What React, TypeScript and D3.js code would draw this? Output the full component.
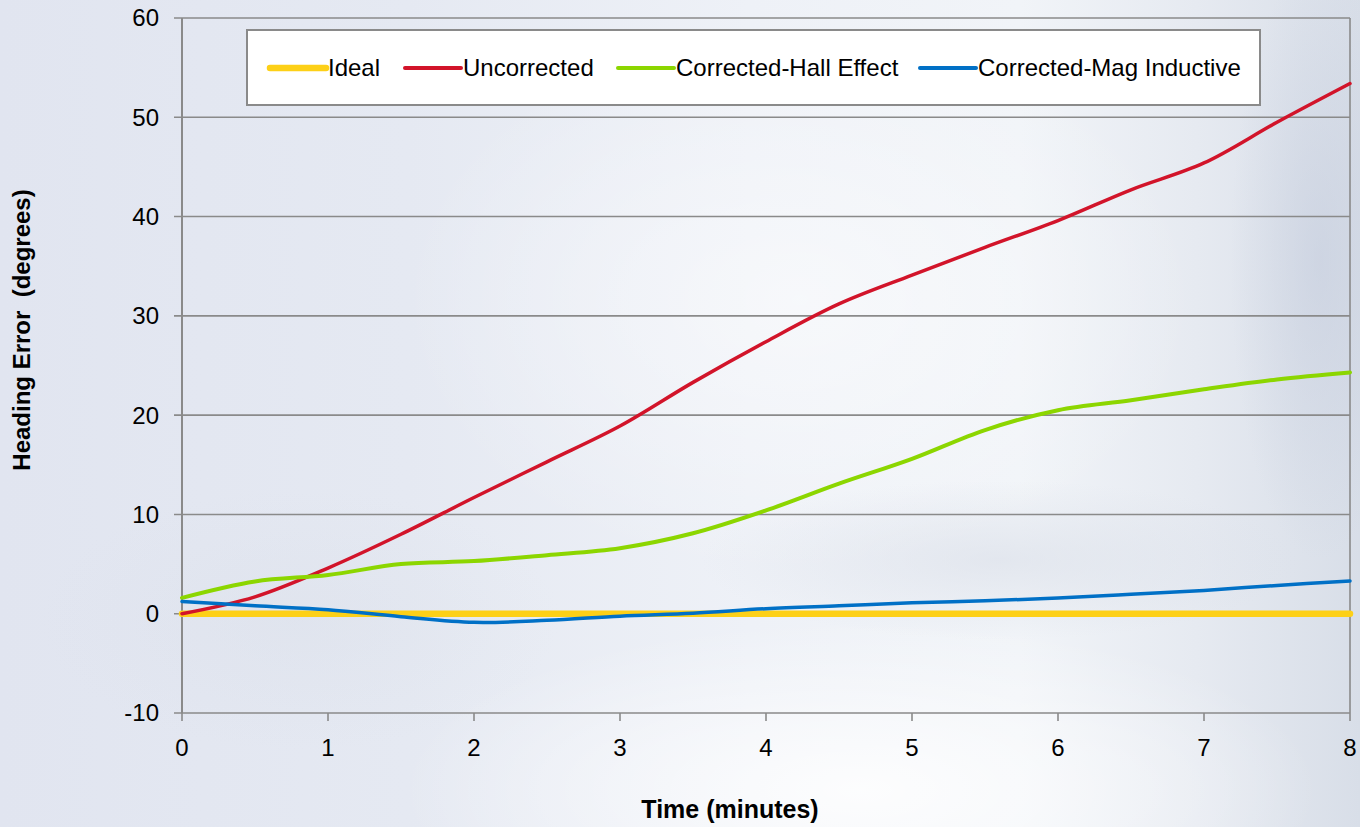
import React from "react";
import * as d3 from "d3";

const times = [0, 0.5, 1, 1.5, 2, 2.5, 3, 3.5, 4, 4.5, 5, 5.5, 6, 6.5, 7, 7.5, 8];
const ideal = [0, 0, 0, 0, 0, 0, 0, 0, 0, 0, 0, 0, 0, 0, 0, 0, 0];
const uncorrected = [0, 1.7, 4.6, 8.0, 11.7, 15.3, 18.9, 23.3, 27.4, 31.2, 34.1, 36.9, 39.6, 42.7, 45.4, 49.5, 53.4];
const hallEffect = [1.6, 3.25, 3.9, 5.0, 5.3, 5.9, 6.6, 8.1, 10.4, 13.1, 15.6, 18.5, 20.5, 21.5, 22.6, 23.6, 24.3];
const magInductive = [1.24, 0.8, 0.4, -0.3, -0.87, -0.67, -0.25, 0.05, 0.5, 0.8, 1.1, 1.3, 1.58, 1.95, 2.35, 2.85, 3.3];

const xTicks = [0, 1, 2, 3, 4, 5, 6, 7, 8];
const yTicks = [-10, 0, 10, 20, 30, 40, 50, 60];

const seriesNames = ["Ideal", "Uncorrected", "Corrected-Hall Effect", "Corrected-Mag Inductive"];
const seriesValues = [ideal, uncorrected, hallEffect, magInductive];
const seriesColors = ["#fdd017", "#d2142a", "#8cd600", "#0070c6"];
const seriesWidths = [6.5, 3.5, 4, 3.5];

const W = 1360;
const H = 827;
const left = 182;
const right = 1350;
const top = 18;
const bottom = 713;

export default function App() {
  const x = d3.scaleLinear().domain([0, 8]).range([left, right]);
  const y = d3.scaleLinear().domain([-10, 60]).range([bottom, top]);
  const line = d3
    .line<number>()
    .x((_, i) => x(times[i]))
    .y((v) => y(v))
    .curve(d3.curveCatmullRom.alpha(0.5));

  const legendX = [270, 405, 618, 920];
  const font = "'Liberation Sans', Arial, sans-serif";
  const gridColor = "#8a8a8a";

  return (
    <svg
      width={W}
      height={H}
      style={{ position: "absolute", left: 0, top: 0, display: "block" }}
      fontFamily={font}
    >
      <defs>
        <linearGradient id="bgH" x1="0" y1="0" x2="1" y2="0">
          <stop offset="0" stopColor="#e1e5f0" />
          <stop offset="0.3" stopColor="#e5e9f2" />
          <stop offset="0.55" stopColor="#eef1f7" />
          <stop offset="0.75" stopColor="#f1f4f8" />
          <stop offset="0.88" stopColor="#e6eaf1" />
          <stop offset="1" stopColor="#d8dee8" />
        </linearGradient>
        <radialGradient id="glow" cx="0.5" cy="0.5" r="0.5">
          <stop offset="0" stopColor="#ffffff" stopOpacity="0.85" />
          <stop offset="1" stopColor="#ffffff" stopOpacity="0" />
        </radialGradient>
        <radialGradient id="dark" cx="0.5" cy="0.5" r="0.5">
          <stop offset="0" stopColor="#c3cbdc" stopOpacity="0.55" />
          <stop offset="1" stopColor="#c3cbdc" stopOpacity="0" />
        </radialGradient>
        <radialGradient id="dim" cx="0.5" cy="0.5" r="0.5">
          <stop offset="0" stopColor="#d9dee8" stopOpacity="0.6" />
          <stop offset="1" stopColor="#d9dee8" stopOpacity="0" />
        </radialGradient>
      </defs>
      <rect x={0} y={0} width={W} height={H} fill="url(#bgH)" />
      <ellipse cx={860} cy={790} rx={460} ry={170} fill="url(#glow)" />
      <ellipse cx={800} cy={300} rx={400} ry={280} fill="url(#glow)" opacity={0.6} />
      <ellipse cx={1320} cy={260} rx={90} ry={300} fill="url(#dark)" />
      <ellipse cx={1000} cy={560} rx={300} ry={80} fill="url(#dim)" />
      <ellipse cx={300} cy={620} rx={260} ry={130} fill="url(#dim)" opacity={0.6} />

      {/* gridlines */}
      {yTicks.map((t) => (
        <line
          key={"g" + t}
          x1={left - 8}
          x2={right}
          y1={y(t)}
          y2={y(t)}
          stroke={gridColor}
          strokeWidth={1.6}
        />
      ))}
      {/* right border */}
      <line x1={right} x2={right} y1={top} y2={bottom} stroke={gridColor} strokeWidth={1.6} />
      {/* left axis */}
      <line x1={left} x2={left} y1={top} y2={bottom} stroke={gridColor} strokeWidth={2} />
      {/* x ticks */}
      {xTicks.map((t) => (
        <line
          key={"xt" + t}
          x1={x(t)}
          x2={x(t)}
          y1={bottom}
          y2={bottom + 8}
          stroke={gridColor}
          strokeWidth={1.6}
        />
      ))}
      {/* y tick labels */}
      {yTicks.map((t) => (
        <text
          key={"yl" + t}
          x={159}
          y={y(t)}
          dy="0.35em"
          textAnchor="end"
          fontSize={24}
          fill="#000"
        >
          {t}
        </text>
      ))}
      {/* x tick labels */}
      {xTicks.map((t) => (
        <text key={"xl" + t} x={x(t)} y={756} textAnchor="middle" fontSize={24} fill="#000">
          {t}
        </text>
      ))}

      {/* series */}
      {seriesValues.map((vals, i) => (
        <path
          key={"s" + i}
          d={line(vals) || ""}
          fill="none"
          stroke={seriesColors[i]}
          strokeWidth={seriesWidths[i]}
          strokeLinecap="round"
          strokeLinejoin="round"
        />
      ))}

      {/* legend */}
      <rect x={247} y={30} width={1013} height={75} fill="#ffffff" stroke="#8a8a8a" strokeWidth={2} />
      {seriesNames.map((name, i) => (
        <g key={"l" + i}>
          <line
            x1={legendX[i]}
            x2={legendX[i] + 56}
            y1={68}
            y2={68}
            stroke={seriesColors[i]}
            strokeWidth={i === 0 ? 6.5 : 4}
            strokeLinecap="round"
          />
          <text x={legendX[i] + 58} y={68} dy="0.35em" fontSize={24} fill="#000">
            {name}
          </text>
        </g>
      ))}

      {/* axis titles */}
      <text
        transform="translate(30,330) rotate(-90)"
        textAnchor="middle"
        fontSize={24}
        fontWeight="bold"
        fill="#000"
        style={{ whiteSpace: "pre" }}
      >
        {"Heading Error  (degrees)"}
      </text>
      <text x={730} y={818} textAnchor="middle" fontSize={25} fontWeight="bold" fill="#000">
        Time (minutes)
      </text>
    </svg>
  );
}
